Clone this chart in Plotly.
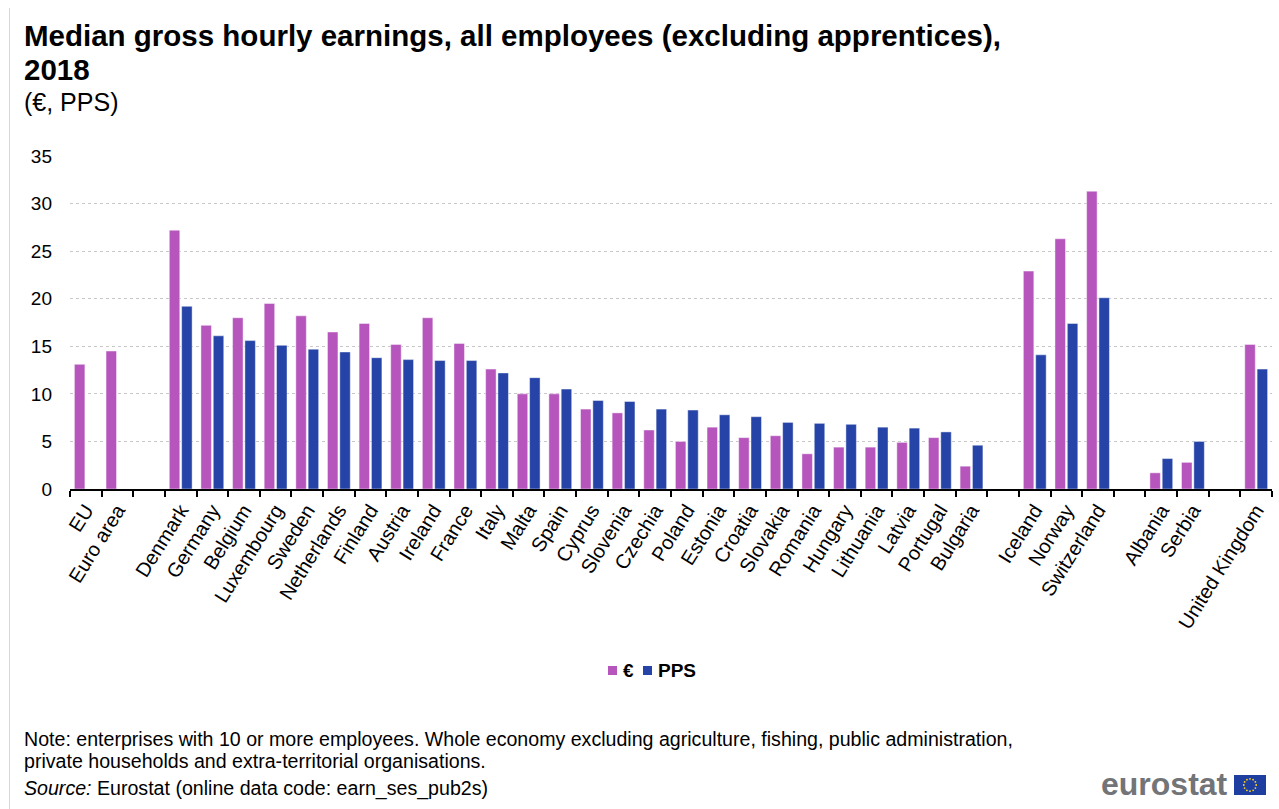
import math
import plotly.graph_objects as go

# Median gross hourly earnings 2018, all employees excluding apprentices
countries = [
    "EU", "Euro area", " ",
    "Denmark", "Germany", "Belgium", "Luxembourg", "Sweden", "Netherlands",
    "Finland", "Austria", "Ireland", "France", "Italy", "Malta", "Spain",
    "Cyprus", "Slovenia", "Czechia", "Poland", "Estonia", "Croatia",
    "Slovakia", "Romania", "Hungary", "Lithuania", "Latvia", "Portugal",
    "Bulgaria", "  ",
    "Iceland", "Norway", "Switzerland", "   ",
    "Albania", "Serbia", "    ",
    "United Kingdom",
]

euro = [
    13.1, 14.5, None,
    27.2, 17.2, 18.0, 19.5, 18.2, 16.5,
    17.4, 15.2, 18.0, 15.3, 12.6, 10.0, 10.0,
    8.4, 8.0, 6.2, 5.0, 6.5, 5.4,
    5.6, 3.7, 4.4, 4.4, 4.9, 5.4,
    2.4, None,
    22.9, 26.3, 31.3, None,
    1.7, 2.8, None,
    15.2,
]

pps = [
    None, None, None,
    19.2, 16.1, 15.6, 15.1, 14.7, 14.4,
    13.8, 13.6, 13.5, 13.5, 12.2, 11.7, 10.5,
    9.3, 9.2, 8.4, 8.3, 7.8, 7.6,
    7.0, 6.9, 6.8, 6.5, 6.4, 6.0,
    4.6, None,
    14.1, 17.4, 20.1, None,
    3.2, 5.0, None,
    12.6,
]

series_names = ["€", "PPS"]
y_ticks = [0, 5, 10, 15, 20, 25, 30, 35]

PURPLE = "#B656BD"
BLUE = "#2644A7"
FONT = "Arial, Liberation Sans, sans-serif"

W, H = 1279, 809
ML, MR, MT, MB = 70, 7, 156, 320
PW = W - ML - MR
PH = H - MT - MB


def px(x):
    return (x - ML) / PW


def py(y):
    return (H - MB - y) / PH


fig = go.Figure()
for name, vals, col in [(series_names[0], euro, PURPLE), (series_names[1], pps, BLUE)]:
    fig.add_trace(go.Bar(
        x=countries, y=vals, name=name,
        marker=dict(color=col, line=dict(color="rgba(255,255,255,0.55)", width=0.8)),
        showlegend=False,
        hovertemplate="%{x}: %{y}<extra>" + name + "</extra>",
    ))

annotations = []
shapes = []

# Title block
annotations.append(dict(
    text="<b>Median gross hourly earnings, all employees (excluding apprentices),</b>",
    x=px(22), y=py(36), xref="paper", yref="paper", xanchor="left", yanchor="middle",
    showarrow=False, font=dict(family=FONT, size=29.5, color="#000000"),
))
annotations.append(dict(
    text="<b>2018</b>",
    x=px(22), y=py(69), xref="paper", yref="paper", xanchor="left", yanchor="middle",
    showarrow=False, font=dict(family=FONT, size=29.5, color="#000000"),
))
annotations.append(dict(
    text="(€, PPS)",
    x=px(22), y=py(102), xref="paper", yref="paper", xanchor="left", yanchor="middle",
    showarrow=False, font=dict(family=FONT, size=25, color="#000000"),
))

# Legend drawn as swatches and labels
legend_items = [(608, PURPLE, series_names[0]), (643, BLUE, series_names[1])]
for x0, col, label in legend_items:
    shapes.append(dict(type="rect", xref="paper", yref="paper",
                       x0=px(x0), x1=px(x0 + 9), y0=py(675), y1=py(666),
                       fillcolor=col, line=dict(width=0)))
    annotations.append(dict(
        text="<b>" + label + "</b>", x=px(x0 + 13), y=py(670.5),
        xref="paper", yref="paper", xanchor="left", yanchor="middle",
        showarrow=False, font=dict(family=FONT, size=19, color="#000000"),
    ))

# Footnotes
notes = [
    (739, "Note: enterprises with 10 or more employees. Whole economy excluding agriculture, fishing, public administration,"),
    (761, "private households and extra-territorial organisations."),
    (788, "<i>Source:</i> Eurostat (online data code: earn_ses_pub2s)"),
]
for yy, txt in notes:
    annotations.append(dict(
        text=txt, x=px(22), y=py(yy), xref="paper", yref="paper",
        xanchor="left", yanchor="middle", showarrow=False,
        font=dict(family=FONT, size=19.6, color="#000000"),
    ))

# Eurostat wordmark with flag
annotations.append(dict(
    text="<b>eurostat</b>", x=px(1230), y=py(784), xref="paper", yref="paper",
    xanchor="right", yanchor="middle", showarrow=False,
    font=dict(family=FONT, size=32, color="#737477"),
))
shapes.append(dict(type="rect", xref="paper", yref="paper",
                   x0=px(1234), x1=px(1266), y0=py(795), y1=py(775),
                   fillcolor="#1F3FA0", line=dict(width=0)))
cx, cy, r = 1250, 785, 6.2
for k in range(12):
    a = 2 * math.pi * k / 12
    sx = cx + r * math.cos(a)
    sy = cy + r * math.sin(a)
    shapes.append(dict(type="circle", xref="paper", yref="paper",
                       x0=px(sx - 0.9), x1=px(sx + 0.9), y0=py(sy + 0.9), y1=py(sy - 0.9),
                       fillcolor="#FFD617", line=dict(width=0)))

# Thin frame line on the left
shapes.append(dict(type="line", xref="paper", yref="paper",
                   x0=px(9.5), x1=px(9.5), y0=py(8), y1=py(809),
                   line=dict(color="#D9D9D9", width=1)))

fig.update_layout(
    width=W, height=H,
    margin=dict(l=ML, r=MR, t=MT, b=MB, autoexpand=False),
    paper_bgcolor="#FFFFFF", plot_bgcolor="#FFFFFF",
    barmode="group", bargap=0.22, bargroupgap=0.15,
    font=dict(family=FONT, color="#000000"),
    annotations=annotations, shapes=shapes,
    showlegend=False,
)
fig.update_xaxes(
    type="category", categoryorder="array", categoryarray=countries,
    tickangle=-58, tickfont=dict(family=FONT, size=20, color="#000000"),
    showline=True, linecolor="#000000", linewidth=1.5,
    ticks="outside", tickson="boundaries", ticklen=6, tickcolor="#000000", tickwidth=1.5,
    showgrid=False, zeroline=False,
)
fig.update_yaxes(
    range=[0, 35], tickvals=y_ticks,
    tickfont=dict(family=FONT, size=19, color="#000000"),
    showgrid=True, gridcolor="#C8C8C8", gridwidth=1, griddash="dot",
    zeroline=False, showline=False, ticks="", ticklabelstandoff=17,
)

fig.write_html("out.html")
